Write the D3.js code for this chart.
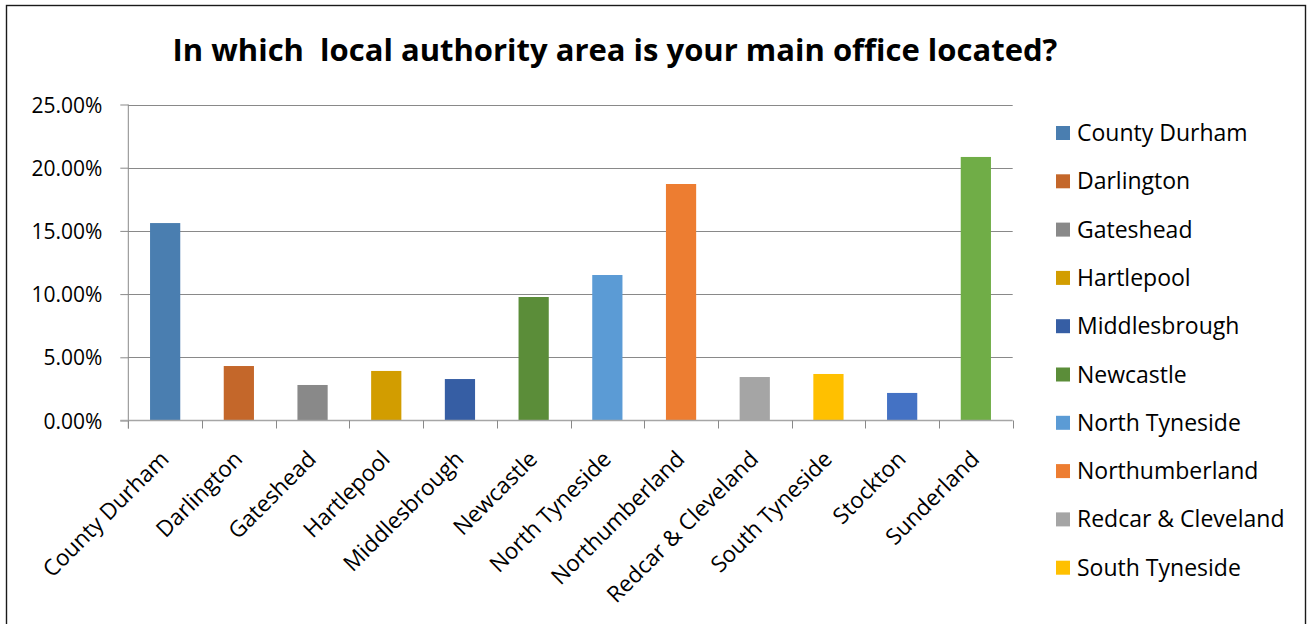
<!DOCTYPE html>
<html>
<head>
<meta charset="utf-8">
<script src="https://cdn.jsdelivr.net/npm/d3@7"></script>
<style>
  html, body { margin: 0; padding: 0; background: #fff; }
  svg { display: block; }
</style>
</head>
<body>
<svg id="chart" width="1314" height="624"></svg>
<script>
// Survey: share of respondents by local authority of main office
const categories = [
  "County Durham", "Darlington", "Gateshead", "Hartlepool", "Middlesbrough",
  "Newcastle", "North Tyneside", "Northumberland", "Redcar & Cleveland",
  "South Tyneside", "Stockton", "Sunderland"
];
const shares = [
  0.1562, 0.0431, 0.0281, 0.0392, 0.0328, 0.0977,
  0.1151, 0.1871, 0.0344, 0.0368, 0.0218, 0.2085
];
const colors = [
  "#4a7eb0", "#c4672a", "#898989", "#d29d00", "#365ea4", "#5b8d39",
  "#5b9bd5", "#ed7d31", "#a5a5a5", "#ffc000", "#4472c4", "#70ad47"
];
const yTicks = [0, 0.05, 0.10, 0.15, 0.20, 0.25];
// The legend panel only has room for the first ten entries
const legendCount = 10;
const title = "In which  local authority area is your main office located?";

const svg = d3.select("#chart");
const font = "'Open Sans', 'Noto Sans', sans-serif";

// Outer chart frame
svg.append("rect")
  .attr("x", 6.5).attr("y", 5.5)
  .attr("width", 1299).attr("height", 700)
  .attr("fill", "#fff")
  .attr("stroke", "#1a1a1a").attr("stroke-width", 1.4);

const plot = { left: 128.3, right: 1012.7, top: 104.5, bottom: 420.5 };

const x = d3.scaleBand()
  .domain(categories)
  .range([plot.left, plot.right])
  .paddingInner(0.59)
  .paddingOuter(0.295);

const y = d3.scaleLinear()
  .domain([0, 0.25])
  .range([plot.bottom, plot.top]);

// Title
svg.append("text")
  .attr("x", 615).attr("y", 61)
  .attr("text-anchor", "middle")
  .attr("font-family", font)
  .attr("font-weight", "bold")
  .attr("font-size", 31)
  .attr("fill", "#000")
  .style("white-space", "pre")
  .attr("xml:space", "preserve")
  .text(title);

// Horizontal gridlines
svg.append("g")
  .selectAll("line")
  .data(yTicks.filter(d => d > 0))
  .join("line")
  .attr("x1", plot.left).attr("x2", plot.right)
  .attr("y1", d => Math.round(y(d)) + 0.5).attr("y2", d => Math.round(y(d)) + 0.5)
  .attr("stroke", "#898989").attr("stroke-width", 1);

// Y axis
const yAxis = svg.append("g")
  .attr("transform", `translate(${plot.left},0)`)
  .call(d3.axisLeft(y).tickValues(yTicks).tickFormat(d3.format(".2%")).tickSize(8).tickPadding(18));
yAxis.select(".domain").remove();
yAxis.selectAll(".tick line").attr("stroke", "#898989");
yAxis.selectAll(".tick text")
  .attr("font-family", font).attr("font-size", 21).attr("fill", "#000")
  .attr("dy", "0.36em");
svg.append("line")
  .attr("x1", plot.left).attr("x2", plot.left)
  .attr("y1", plot.top).attr("y2", plot.bottom + 8)
  .attr("stroke", "#898989");

// Bars
svg.append("g")
  .selectAll("rect")
  .data(categories)
  .join("rect")
  .attr("x", d => x(d))
  .attr("width", x.bandwidth())
  .attr("y", (d, i) => y(shares[i]))
  .attr("height", (d, i) => y(0) - y(shares[i]))
  .attr("fill", (d, i) => colors[i]);

// X axis line and category ticks on band boundaries
const boundaries = d3.range(categories.length + 1).map(i => plot.left + i * x.step());
svg.append("line")
  .attr("x1", plot.left - 8).attr("x2", plot.right)
  .attr("y1", plot.bottom).attr("y2", plot.bottom)
  .attr("stroke", "#a6a6a6").attr("stroke-width", 1.6);
svg.append("g")
  .selectAll("line")
  .data(boundaries)
  .join("line")
  .attr("x1", d => Math.round(d) + 0.5).attr("x2", d => Math.round(d) + 0.5)
  .attr("y1", plot.bottom).attr("y2", plot.bottom + 8)
  .attr("stroke", "#898989");

// Rotated category labels
svg.append("g")
  .selectAll("text")
  .data(categories)
  .join("text")
  .attr("transform", d => `translate(${x(d) + x.bandwidth() / 2 + 5},${plot.bottom + 40}) rotate(-45)`)
  .attr("text-anchor", "end")
  .attr("font-family", font).attr("font-size", 22.5).attr("fill", "#000")
  .text(d => d);

// Legend
const legend = svg.append("g")
  .selectAll("g")
  .data(categories.slice(0, legendCount))
  .join("g")
  .attr("transform", (d, i) => `translate(1056,${133 + i * 48.3})`);
legend.append("rect")
  .attr("x", 0).attr("y", -7)
  .attr("width", 14).attr("height", 14)
  .attr("fill", (d, i) => colors[i]);
legend.append("text")
  .attr("x", 21).attr("y", 0).attr("dy", "0.35em")
  .attr("font-family", font).attr("font-size", 23).attr("fill", "#000")
  .text(d => d);
</script>
</body>
</html>
